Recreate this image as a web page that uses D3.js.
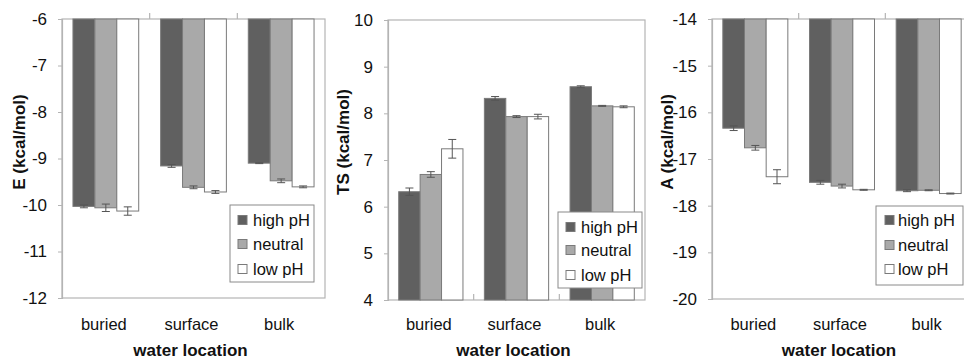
<!DOCTYPE html>
<html>
<head>
<meta charset="utf-8">
<script src="https://cdn.jsdelivr.net/npm/d3@7"></script>
<style>
  html, body { margin: 0; padding: 0; background: #fff; }
  svg { display: block; font-family: "Liberation Sans", Arial, sans-serif; }
</style>
</head>
<body>
<svg id="chart" width="964" height="362"></svg>
<script>
// ---- data ----
const categories = ["buried", "surface", "bulk"];
const seriesNames = ["high pH", "neutral", "low pH"];

// E (kcal/mol)
const E_high = [-10.03, -9.16, -9.10];
const E_neutral = [-10.06, -9.62, -9.48];
const E_low = [-10.13, -9.72, -9.61];
const E_high_err = [0.03, 0.03, 0.01];
const E_neutral_err = [0.08, 0.03, 0.04];
const E_low_err = [0.09, 0.03, 0.02];
const E_ticks = [-6, -7, -8, -9, -10, -11, -12];

// TS (kcal/mol)
const TS_high = [6.32, 8.32, 8.57];
const TS_neutral = [6.69, 7.93, 8.16];
const TS_low = [7.24, 7.93, 8.14];
const TS_high_err = [0.08, 0.04, 0.02];
const TS_neutral_err = [0.06, 0.02, 0.01];
const TS_low_err = [0.20, 0.05, 0.02];
const TS_ticks = [4, 5, 6, 7, 8, 9, 10];

// A (kcal/mol)
const A_high = [-16.34, -17.50, -17.68];
const A_neutral = [-16.76, -17.58, -17.67];
const A_low = [-17.38, -17.66, -17.74];
const A_high_err = [0.05, 0.04, 0.02];
const A_neutral_err = [0.05, 0.04, 0.01];
const A_low_err = [0.15, 0.01, 0.01];
const A_ticks = [-14, -15, -16, -17, -18, -19, -20];

const xTitle = "water location";

// ---- styles / layout ----
const fills = ["#606060", "#a9a9a9", "#ffffff"];
const axisColor = "#b4b4b4";

const panels = [
  { title: "E (kcal/mol)", values: [E_high, E_neutral, E_low], errs: [E_high_err, E_neutral_err, E_low_err],
    ticks: E_ticks, base: -6, catTicksTop: true,
    left: 62, right: 325, top: 19, bottom: 298, titleX: 19,
    legend: { x: 230, y: 205, w: 84, h: 77, rows: [220, 244, 269], sw: 238, tx: 253 } },
  { title: "TS (kcal/mol)", values: [TS_high, TS_neutral, TS_low], errs: [TS_high_err, TS_neutral_err, TS_low_err],
    ticks: TS_ticks, base: 4, catTicksTop: false,
    left: 388, right: 645, top: 20, bottom: 300, titleX: 343,
    legend: { x: 558, y: 212, w: 84, h: 76, rows: [227, 250, 275], sw: 566, tx: 581 } },
  { title: "A (kcal/mol)", values: [A_high, A_neutral, A_low], errs: [A_high_err, A_neutral_err, A_low_err],
    ticks: A_ticks, base: -14, catTicksTop: true,
    left: 712, right: 972, top: 19, bottom: 299, titleX: 667,
    legend: { x: 876, y: 206, w: 87, h: 79, rows: [220, 245, 269], sw: 885, tx: 898 } }
];

const svg = d3.select("#chart");

panels.forEach(p => {
  const g = svg.append("g");
  const yDom = d3.extent(p.ticks);
  const y = d3.scaleLinear().domain(yDom).range([p.bottom, p.top]);
  const x0 = d3.scaleBand().domain(categories).range([p.left, p.right]).paddingInner(0).paddingOuter(0);
  const x1 = d3.scaleBand().domain(seriesNames).range([0, x0.bandwidth()]).paddingInner(0).paddingOuter(0.5);

  // plot border
  g.append("rect")
    .attr("x", p.left).attr("y", p.top)
    .attr("width", p.right - p.left).attr("height", p.bottom - p.top)
    .attr("fill", "none").attr("stroke", axisColor).attr("stroke-width", 1.2);

  // bars
  seriesNames.forEach((s, si) => {
    categories.forEach((c, ci) => {
      const v = p.values[si][ci];
      const bx = x0(c) + x1(s);
      const y0 = y(p.base), yv = y(v);
      g.append("rect")
        .attr("x", bx).attr("y", Math.min(y0, yv))
        .attr("width", x1.bandwidth()).attr("height", Math.abs(yv - y0))
        .attr("fill", fills[si]).attr("stroke", "#7a7a7a").attr("stroke-width", 1);
      // error bar
      const e = p.errs[si][ci];
      const cx = bx + x1.bandwidth() / 2;
      const ya = y(v - e), yb = y(v + e);
      const eg = g.append("g").attr("stroke", "#555").attr("stroke-width", 1);
      eg.append("line").attr("x1", cx).attr("x2", cx).attr("y1", ya).attr("y2", yb);
      eg.append("line").attr("x1", cx - 4).attr("x2", cx + 4).attr("y1", ya).attr("y2", ya);
      eg.append("line").attr("x1", cx - 4).attr("x2", cx + 4).attr("y1", yb).attr("y2", yb);
    });
  });

  // y axis
  const yAxis = d3.axisLeft(y).tickValues(p.ticks).tickSize(4).tickPadding(11).tickFormat(d => String(d));
  const ya = g.append("g").attr("transform", `translate(${p.left},0)`).call(yAxis);
  ya.select(".domain").attr("stroke", axisColor).attr("stroke-width", 1.2);
  ya.selectAll(".tick line").attr("stroke", axisColor);
  ya.selectAll(".tick text").attr("fill", "#111").style("font-size", "17px")
    .style("font-family", "'Liberation Sans', Arial, sans-serif");

  // category axis (ticks between categories, pointing up)
  const axisY = p.catTicksTop ? p.top : p.bottom;
  const bounds = categories.slice(1).map(c => x0(c));
  g.selectAll(".ctick").data(bounds).enter().append("line")
    .attr("x1", d => d).attr("x2", d => d)
    .attr("y1", axisY).attr("y2", axisY - 6)
    .attr("stroke", axisColor).attr("stroke-width", 1.2);

  // category labels
  g.selectAll(".clabel").data(categories).enter().append("text")
    .attr("x", d => x0(d) + x0.bandwidth() / 2 - 2)
    .attr("y", 330)
    .attr("text-anchor", "middle")
    .style("font-size", "16.5px").attr("fill", "#111")
    .text(d => d);

  // x title
  g.append("text")
    .attr("x", (p.left + p.right) / 2 - 3)
    .attr("y", 356)
    .attr("text-anchor", "middle")
    .style("font-size", "17px").style("font-weight", "bold").attr("fill", "#111")
    .text(xTitle);

  // y title
  g.append("text")
    .attr("transform", `translate(${p.titleX + 6},142) rotate(-90)`)
    .attr("text-anchor", "middle")
    .style("font-size", "17px").style("font-weight", "bold").attr("fill", "#111")
    .text(p.title);

  // legend
  const L = p.legend;
  const lg = g.append("g");
  lg.append("rect").attr("x", L.x).attr("y", L.y).attr("width", L.w).attr("height", L.h)
    .attr("fill", "#fff").attr("stroke", "#8a8a8a").attr("stroke-width", 1);
  seriesNames.forEach((s, si) => {
    lg.append("rect").attr("x", L.sw).attr("y", L.rows[si] - 4.5).attr("width", 9).attr("height", 9)
      .attr("fill", fills[si]).attr("stroke", "#7a7a7a").attr("stroke-width", 1);
    lg.append("text").attr("x", L.tx).attr("y", L.rows[si] + 6)
      .style("font-size", "16.5px").attr("fill", "#111").text(s);
  });
});
</script>
</body>
</html>
